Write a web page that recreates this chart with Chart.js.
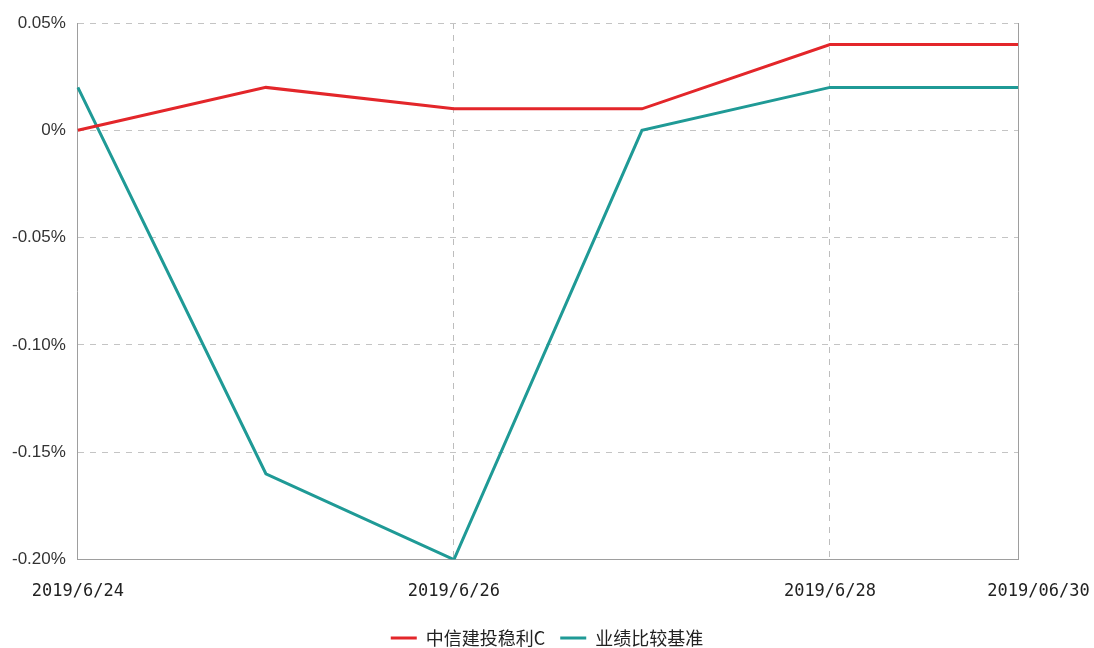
<!DOCTYPE html>
<html>
<head>
<meta charset="utf-8">
<script src="https://cdn.jsdelivr.net/npm/chart.js@4/dist/chart.umd.min.js"></script>
<style>
    body { margin: 0; background: #fff; }
    #wrap { width: 1094px; height: 648px; }
</style>
</head>
<body>
<div id="wrap"><canvas id="myChart"></canvas></div>
<script>
const dates = ['2019/6/24', '2019/6/25', '2019/6/26', '2019/6/27', '2019/6/28', '2019/06/30'];
const fundValues = [0.00, 0.02, 0.01, 0.01, 0.04, 0.04];
const benchValues = [0.02, -0.16, -0.20, 0.00, 0.02, 0.02];
const shownLabels = [0, 2, 4, 5];
const gridLines = [2, 4];

const ctx = document.getElementById('myChart');
const myChart = new Chart(ctx, {
    type: 'line',
    data: {
        labels: dates,
        datasets: [{
            label: '中信建投稳利C',
            data: fundValues,
            borderColor: '#e3262a',
            backgroundColor: '#e3262a',
            borderWidth: 3,
            pointRadius: 0,
            tension: 0
        }, {
            label: '业绩比较基准',
            data: benchValues,
            borderColor: '#1f9a96',
            backgroundColor: '#1f9a96',
            borderWidth: 3,
            pointRadius: 0,
            tension: 0
        }]
    },
    options: {
        responsive: true,
        maintainAspectRatio: false,
        animation: false,
        layout: {
            padding: {top: 23, left: 0, right: 0, bottom: -9}
        },
        scales: {
            x: {
                offset: false,
                afterFit: (scale) => {
                    scale.height -= 10;
                    scale.paddingRight = 76;
                },
                grid: {
                    drawTicks: false,
                    color: (c) => gridLines.includes(c.index) ? '#bdbdbd' : 'rgba(0,0,0,0)'
                },
                border: {display: true, color: '#9e9e9e', dash: [6, 6]},
                ticks: {
                    autoSkip: false,
                    maxRotation: 0,
                    padding: 22,
                    color: '#222',
                    font: {family: "'DejaVu Sans Mono', monospace", size: 17},
                    // last label sits a bit right of its point, as in the original
                    callback: (v, i) => {
                        if (!shownLabels.includes(i)) return '';
                        return i === dates.length - 1 ? '    ' + dates[i] : dates[i];
                    }
                }
            },
            y: {
                min: -0.20,
                max: 0.05,
                grid: {drawTicks: false, color: '#c4c4c4'},
                border: {display: true, color: '#9e9e9e', dash: [6, 6]},
                ticks: {
                    stepSize: 0.05,
                    padding: 12,
                    color: '#333',
                    font: {family: "'Liberation Sans', Arial, sans-serif", size: 17},
                    callback: (v) => Math.abs(v) < 1e-9 ? '0%' : v.toFixed(2) + '%'
                }
            },
            y2: {
                position: 'right',
                min: -0.20,
                max: 0.05,
                grid: {display: false, drawTicks: false},
                border: {display: true, color: '#9e9e9e'},
                ticks: {display: false}
            }
        },
        plugins: {
            legend: {
                position: 'bottom',
                labels: {
                    boxWidth: 26,
                    boxHeight: 0,
                    padding: 15,
                    color: '#222',
                    font: {family: "'Noto Sans CJK SC', sans-serif", size: 18}
                }
            },
            tooltip: {enabled: false}
        }
    }
});
</script>
</body>
</html>
